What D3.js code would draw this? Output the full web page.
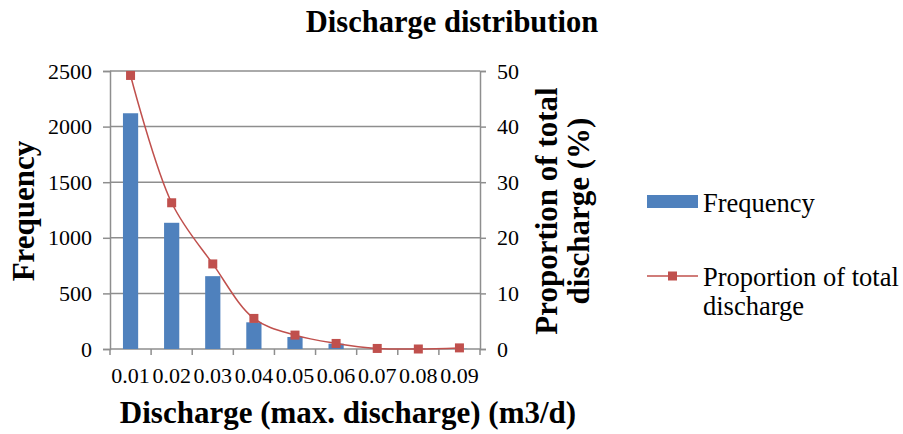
<!DOCTYPE html>
<html>
<head>
  <meta charset="utf-8">
  <script src="https://d3js.org/d3.v7.min.js"></script>
  <style>
    body { margin: 0; background: #fff; }
    text { font-family: "Liberation Serif", "Times New Roman", serif; fill: #000; }
    .tick-label { font-size: 22px; }
    .axis-title { font-size: 31px; font-weight: bold; }
  </style>
</head>
<body>
  <script>
    // chart data
    var categories = ["0.01", "0.02", "0.03", "0.04", "0.05", "0.06", "0.07", "0.08", "0.09"];
    var frequency = [2120, 1135, 655, 240, 108, 48, 6, 2, 2];
    var proportion = [49.2, 26.3, 15.3, 5.5, 2.5, 1.0, 0.1, 0.0, 0.2];
    var leftTicks = [0, 500, 1000, 1500, 2000, 2500];
    var rightTicks = [0, 10, 20, 30, 40, 50];

    var blue = "#4f81bd", red = "#c0504d", gridColor = "#8e8e8e";

    var plotLeft = 110, plotRight = 480, plotTop = 71, plotBottom = 349;

    var svg = d3.select("body").append("svg")
        .attr("width", 903)
        .attr("height", 434);

    var x = d3.scaleBand()
        .domain(categories)
        .range([plotLeft, plotRight])
        .paddingInner(0.63)
        .paddingOuter(0.315);
    var xc = d3.scaleBand().domain(categories).range([plotLeft, plotRight]);
    var y = d3.scaleLinear().domain([0, 2500]).range([plotBottom, plotTop]);
    var y2 = d3.scaleLinear().domain([0, 50]).range([plotBottom, plotTop]);

    // gridlines
    svg.append("g").selectAll("line")
        .data(leftTicks.slice(1))
        .enter().append("line")
        .attr("x1", plotLeft).attr("x2", plotRight)
        .attr("y1", d => y(d)).attr("y2", d => y(d))
        .attr("stroke", gridColor).attr("stroke-width", 1.5);

    // left axis
    var yAxis = svg.append("g")
        .attr("transform", "translate(" + plotLeft + ",0)")
        .call(d3.axisLeft(y).tickValues(leftTicks).tickFormat(d3.format("d"))
          .tickSize(7).tickPadding(11));
    // right axis
    var y2Axis = svg.append("g")
        .attr("transform", "translate(" + plotRight + ",0)")
        .call(d3.axisRight(y2).tickValues(rightTicks).tickFormat(d3.format("d"))
          .tickSize(6).tickPadding(11));
    // bottom axis (ticks at category boundaries)
    var bounds = d3.range(categories.length + 1).map(i => plotLeft + i * xc.step());
    var xAxisG = svg.append("g");
    xAxisG.append("line")
        .attr("x1", plotLeft).attr("x2", plotRight)
        .attr("y1", plotBottom).attr("y2", plotBottom)
        .attr("stroke", gridColor).attr("stroke-width", 1.5);
    xAxisG.selectAll(".xt").data(bounds).enter().append("line")
        .attr("x1", d => d).attr("x2", d => d)
        .attr("y1", plotBottom).attr("y2", plotBottom + 6)
        .attr("stroke", gridColor).attr("stroke-width", 1.5);
    xAxisG.selectAll(".xl").data(categories).enter().append("text")
        .attr("class", "tick-label")
        .attr("x", d => xc(d) + xc.bandwidth() / 2)
        .attr("y", 383)
        .attr("text-anchor", "middle")
        .text(d => d);

    [yAxis, y2Axis].forEach(g => {
      g.attr("font-family", null).attr("font-size", null);
      g.select(".domain").attr("stroke", gridColor).attr("stroke-width", 1.5);
      g.selectAll(".tick line").attr("stroke", gridColor).attr("stroke-width", 1.5);
      g.selectAll(".tick text").attr("class", "tick-label").attr("fill", "#000");
    });

    // bars
    svg.append("g").selectAll("rect")
        .data(categories)
        .enter().append("rect")
        .attr("x", d => x(d))
        .attr("width", x.bandwidth())
        .attr("y", (d, i) => y(frequency[i]))
        .attr("height", (d, i) => plotBottom - y(frequency[i]))
        .attr("fill", blue);

    // proportion line
    var pts = categories.map((d, i) => [xc(d) + xc.bandwidth() / 2, y2(proportion[i])]);
    svg.append("path")
        .attr("d", d3.line().curve(d3.curveCatmullRom.alpha(0.5))(pts))
        .attr("fill", "none")
        .attr("stroke", red)
        .attr("stroke-width", 1.5);
    svg.append("g").selectAll("rect")
        .data(pts)
        .enter().append("rect")
        .attr("x", d => d[0] - 4.5).attr("y", d => d[1] - 4.5)
        .attr("width", 9).attr("height", 9)
        .attr("fill", red);

    // titles
    svg.append("text")
        .attr("x", 452).attr("y", 32)
        .attr("text-anchor", "middle")
        .style("font-size", "30.5px").style("font-weight", "bold")
        .text("Discharge distribution");

    svg.append("text")
        .attr("class", "axis-title")
        .attr("transform", "translate(34,211) rotate(-90)")
        .attr("text-anchor", "middle")
        .text("Frequency");

    var rt = svg.append("text")
        .attr("class", "axis-title")
        .attr("transform", "translate(557,211) rotate(-90)")
        .attr("text-anchor", "middle");
    rt.append("tspan").attr("x", 0).attr("dy", 0).text("Proportion of total");
    rt.append("tspan").attr("x", 0).attr("dy", 32).text("discharge (%)");

    svg.append("text")
        .attr("class", "axis-title")
        .attr("x", 348).attr("y", 423)
        .attr("text-anchor", "middle")
        .text("Discharge (max. discharge) (m3/d)");

    // legend
    var legend = svg.append("g").style("font-size", "26.5px");
    legend.append("rect")
        .attr("x", 647).attr("y", 195).attr("width", 51).attr("height", 13)
        .attr("fill", blue);
    legend.append("text").attr("x", 703).attr("y", 212).text("Frequency");
    legend.append("line")
        .attr("x1", 647).attr("x2", 698).attr("y1", 276).attr("y2", 276)
        .attr("stroke", red).attr("stroke-width", 1.5);
    legend.append("rect")
        .attr("x", 668).attr("y", 271.5).attr("width", 9).attr("height", 9)
        .attr("fill", red);
    legend.append("text").attr("x", 703).attr("y", 286).text("Proportion of total");
    legend.append("text").attr("x", 703).attr("y", 315).text("discharge");
  </script>
</body>
</html>
